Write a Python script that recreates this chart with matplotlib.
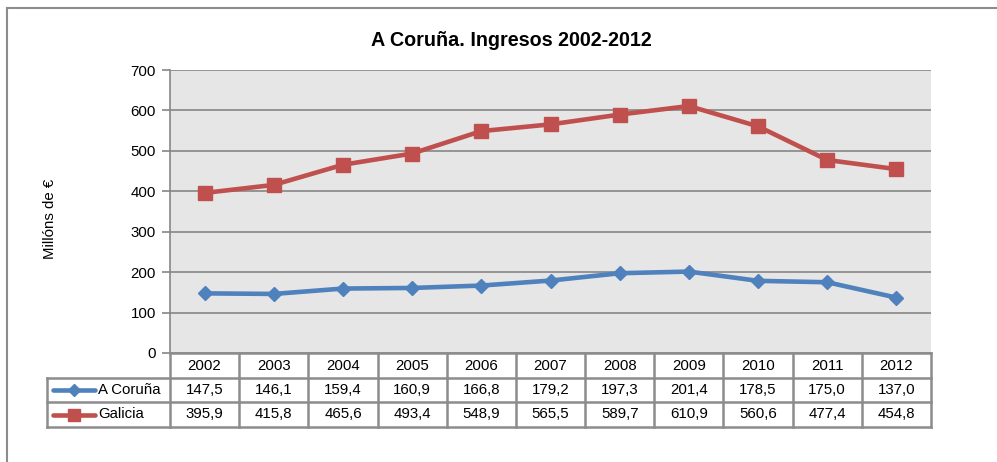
import matplotlib
matplotlib.use("Agg")
import matplotlib.pyplot as plt
from matplotlib.lines import Line2D

plt.rcParams['font.family'] = ['Liberation Sans', 'DejaVu Sans']

years = ["2002", "2003", "2004", "2005", "2006", "2007", "2008", "2009", "2010", "2011", "2012"]
coruna = [147.5, 146.1, 159.4, 160.9, 166.8, 179.2, 197.3, 201.4, 178.5, 175.0, 137.0]
galicia = [395.9, 415.8, 465.6, 493.4, 548.9, 565.5, 589.7, 610.9, 560.6, 477.4, 454.8]
series_names = ["A Coruña", "Galicia"]
yticks = [0, 100, 200, 300, 400, 500, 600, 700]

FS = 10.8
W, H = 997, 462
fig = plt.figure(figsize=(W / 100, H / 100), dpi=100)

# outer border (left and top visible)
fig.add_artist(Line2D([7 / W, 7 / W], [0, 1 - 8 / H], color="#8c8c8c", lw=1.5))
fig.add_artist(Line2D([7 / W, 1], [1 - 8 / H, 1 - 8 / H], color="#8c8c8c", lw=1.5))

L, R, T, B = 170, 931, 70, 353
ax = fig.add_axes([L / W, 1 - B / H, (R - L) / W, (B - T) / H])
ax.set_facecolor("#e6e6e6")
x = list(range(len(years)))
blue = "#4f81bd"
red = "#c0504d"
ax.plot(x, galicia, color=red, lw=3.3, marker="s", ms=10, zorder=3, solid_capstyle="round")
ax.plot(x, coruna, color=blue, lw=3.3, marker="D", ms=7.5, zorder=3, solid_capstyle="round")
ax.set_xlim(-0.5, len(years) - 0.5)
ax.set_ylim(0, 700)
ax.set_yticks(yticks)
ax.set_yticklabels([str(v) for v in yticks], fontsize=FS)
ax.set_xticks([])
ax.yaxis.grid(True, color="#868686", lw=1.2)
ax.set_axisbelow(True)
for s in ["top", "right", "bottom"]:
    ax.spines[s].set_visible(False)
ax.spines["left"].set_color("#868686")
ax.spines["left"].set_linewidth(1.2)
ax.tick_params(axis="y", length=6, color="#868686", width=1.2, pad=4)

fig.text(511 / W, 1 - 40 / H, "A Coruña. Ingresos 2002-2012", ha="center", va="center",
         fontsize=14.2, fontweight="bold")
fig.text(50 / W, 1 - 219 / H, "Millóns de €", rotation=90, ha="center", va="center", fontsize=FS)

# data table
gc = "#8c8c8c"
row_y = [353, 378, 402, 427]
colw = (R - L) / len(years)
tab_left = 47
def fx(px):
    return px / W
def fy(py):
    return 1 - py / H

fig.add_artist(Line2D([fx(L), fx(R)], [fy(row_y[0])] * 2, color=gc, lw=1.8))
for yy in row_y[1:]:
    fig.add_artist(Line2D([fx(tab_left), fx(R)], [fy(yy)] * 2, color=gc, lw=1.8))
for i in range(len(years) + 1):
    xx = L + i * colw
    fig.add_artist(Line2D([fx(xx)] * 2, [fy(row_y[0]), fy(row_y[3])], color=gc, lw=1.8))
fig.add_artist(Line2D([fx(tab_left)] * 2, [fy(row_y[1]), fy(row_y[3])], color=gc, lw=1.8))

def fmt(v):
    return f"{v:.1f}".replace(".", ",")

for i, yr in enumerate(years):
    cx = L + (i + 0.5) * colw
    fig.text(fx(cx), fy((row_y[0] + row_y[1]) / 2), yr, ha="center", va="center", fontsize=FS)
    fig.text(fx(cx), fy((row_y[1] + row_y[2]) / 2), fmt(coruna[i]), ha="center", va="center", fontsize=FS)
    fig.text(fx(cx), fy((row_y[2] + row_y[3]) / 2), fmt(galicia[i]), ha="center", va="center", fontsize=FS)

for k, (name, col, mk, ms) in enumerate(zip(series_names, [blue, red], ["D", "s"], [6, 8])):
    yc = fy((row_y[k + 1] + row_y[k + 2]) / 2)
    fig.add_artist(Line2D([fx(53), fx(95)], [yc, yc], color=col, lw=3.3, solid_capstyle="round"))
    fig.add_artist(Line2D([fx(74)], [yc], color=col, marker=mk, ms=ms, lw=0))
    fig.text(fx(98), yc, name, ha="left", va="center", fontsize=FS)

fig.savefig("out.png", dpi=100)
